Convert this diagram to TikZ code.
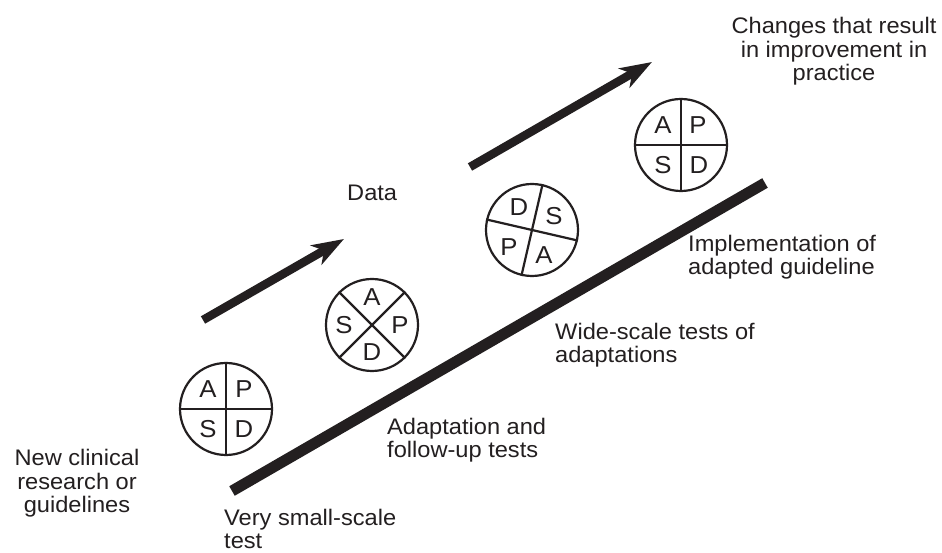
\documentclass[tikz,border=0pt]{standalone}
\usepackage{fontspec}
\setmainfont{Liberation Sans}[FakeStretch=1.05]
\usetikzlibrary{arrows.meta}
\definecolor{ink}{RGB}{35,31,32}
\begin{document}
\begin{tikzpicture}[x=1pt,y=1pt,
  lbl/.style={inner sep=0pt, font=\fontsize{22.5}{23.5}\selectfont, text=ink, align=left},
  ring/.style={draw=ink, line width=2.2pt, circle, minimum size=92pt, inner sep=0pt},
  split/.style={draw=ink, line width=2.2pt},
  letter/.style={inner sep=0pt, font=\fontsize{24.5}{26}\selectfont, text=ink},
  bigarrow/.style={draw=ink, line width=8.5pt, -{Stealth[length=32pt,width=22pt,inset=9pt]}},
  track/.style={draw=ink, line width=11pt}]
\useasboundingbox (0,0) rectangle (942,553);
\fill[white] (0,0) rectangle (942,553);

% track
\coordinate (t0) at (232,62);
\coordinate (t1) at (765,370);
\draw[track] (t0) -- (t1);

% arrows
\coordinate (a1s) at (203,233);
\coordinate (a1e) at (344,314);
\draw[bigarrow] (a1s) -- (a1e);
\coordinate (a2s) at (470,386);
\coordinate (a2e) at (652,491);
\draw[bigarrow] (a2s) -- (a2e);

% circle 1
\node[ring] (c1) at (226,144) {};
\draw[split] (c1.north) -- (c1.south);
\draw[split] (c1.west) -- (c1.east);
\node[letter] (c1a) at ([shift={(-18,20)}]c1.center) {A};
\node[letter] (c1p) at ([shift={(18,20)}]c1.center) {P};
\node[letter] (c1s) at ([shift={(-18,-20)}]c1.center) {S};
\node[letter] (c1d) at ([shift={(18,-20)}]c1.center) {D};

% circle 2
\node[ring] (c2) at (372,228) {};
\draw[split] (c2.45) -- (c2.225);
\draw[split] (c2.135) -- (c2.315);
\node[letter] (c2a) at ([shift={(0,28)}]c2.center) {A};
\node[letter] (c2s) at ([shift={(-28,0)}]c2.center) {S};
\node[letter] (c2p) at ([shift={(28,0)}]c2.center) {P};
\node[letter] (c2d) at ([shift={(0,-27)}]c2.center) {D};

% circle 3
\node[ring] (c3) at (532,323) {};
\draw[split] (c3.77) -- (c3.257);
\draw[split] (c3.167) -- (c3.347);
\node[letter] (c3d) at ([shift={(-13,23)}]c3.center) {D};
\node[letter] (c3s) at ([shift={(22,14)}]c3.center) {S};
\node[letter] (c3p) at ([shift={(-23,-17)}]c3.center) {P};
\node[letter] (c3a) at ([shift={(12,-25)}]c3.center) {A};

% circle 4
\node[ring] (c4) at (681,408) {};
\draw[split] (c4.north) -- (c4.south);
\draw[split] (c4.west) -- (c4.east);
\node[letter] (c4a) at ([shift={(-18,20)}]c4.center) {A};
\node[letter] (c4p) at ([shift={(17,20)}]c4.center) {P};
\node[letter] (c4s) at ([shift={(-18,-20)}]c4.center) {S};
\node[letter] (c4d) at ([shift={(18,-20)}]c4.center) {D};

% labels (base anchor = baseline of last line)
\node[lbl, anchor=base, align=center] (chg) at (834,472) {Changes that result\\in improvement in\\practice};
\node[lbl, anchor=base west] (data) at (347,352) {Data};
\node[lbl, anchor=base west] (impl) at (688,278) {Implementation of\\adapted guideline};
\node[lbl, anchor=base west] (wide) at (555,190) {Wide-scale tests of\\adaptations};
\node[lbl, anchor=base west] (adapt) at (387,95) {Adaptation and\\follow-up tests};
\node[lbl, anchor=base, align=center] (new) at (77,40) {New clinical\\research or\\guidelines};
\node[lbl, anchor=base west] (very) at (224,4) {Very small-scale\\test};
\end{tikzpicture}
\end{document}
